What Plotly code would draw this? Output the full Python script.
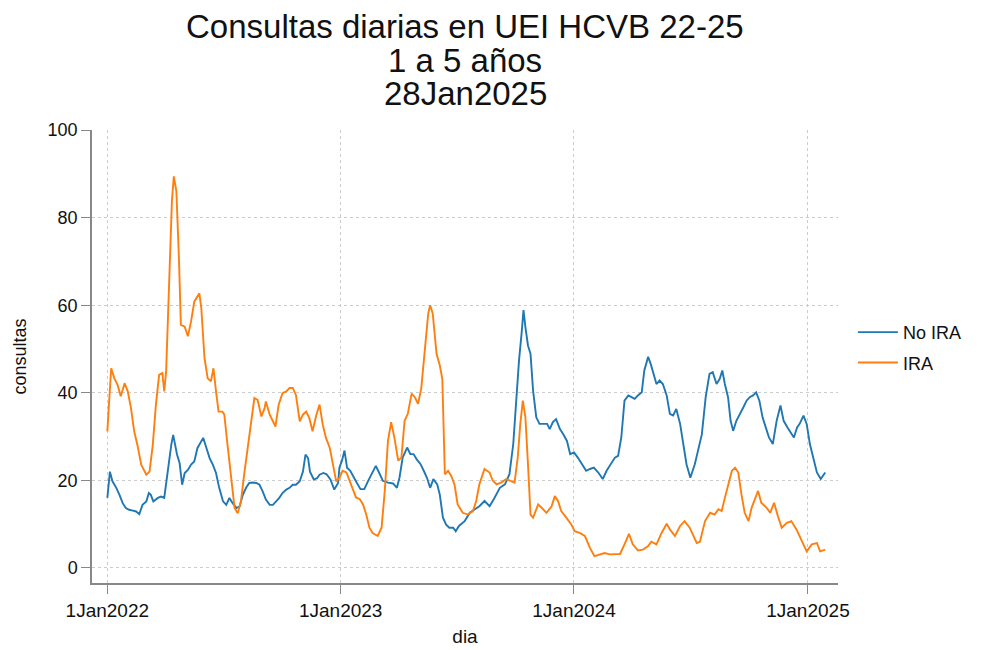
import pandas as pd
import plotly.graph_objects as go

# days since 1Jan2022
dias_no_ira = [0, 4, 8, 14, 19, 24, 29, 34, 40, 45, 50, 55, 61, 65, 68, 72, 79, 84, 89, 94,
               100, 103, 109, 113, 117, 121, 126, 131, 136, 141, 147, 150, 155, 160, 165, 170, 175,
               181, 186, 191, 196, 202, 207, 212, 217, 222, 228, 233, 238, 243, 248, 254, 259, 264,
               269, 274, 280, 285, 290, 295, 301, 306, 310, 314, 317, 323, 328, 332, 338, 343, 349,
               355, 361, 363, 367, 371, 375, 380, 385, 390, 396, 402, 408, 413, 420, 425, 431, 439,
               447, 453, 457, 462, 469, 474, 479, 484, 490, 495, 500, 505, 510, 516, 520, 525, 530,
               535, 541, 545, 550, 559, 567, 575, 582, 590, 598, 606, 614, 622, 629, 635, 640, 644,
               648, 651, 654, 658, 662, 666, 671, 676, 682, 688, 692, 697, 702, 708, 713, 719, 724,
               730, 736, 742, 749, 755, 761, 768, 775, 781, 787, 794, 799, 804, 809, 815, 820, 825,
               830, 836, 840, 846, 850, 854, 859, 864, 869, 875, 880, 885, 890, 896, 901, 906, 912,
               919, 924, 930, 936, 942, 947, 953, 958, 962, 966, 971, 975, 979, 984, 990, 995, 1000,
               1005, 1010, 1015, 1020, 1025, 1030, 1035, 1041, 1047, 1053, 1058, 1064, 1069, 1074,
               1079, 1083, 1089, 1094, 1099, 1105, 1110, 1116, 1123]
no_ira = [16, 22, 19.8, 18.3, 16.7, 14.8, 13.7, 13.3, 13.1, 12.9, 12.3, 14.4, 15.2, 17.1, 16.7,
          15.2, 16, 16.3, 16, 22, 28.1, 30.4, 25.9, 24, 19, 21.7, 22.4, 23.6, 24.3, 27.4, 28.9,
          29.7, 27.4, 25.1, 23.6, 21.7, 18.3, 15.2, 14.4, 16, 14.8, 13.7, 14.1, 16.7, 18.3, 19.4,
          19.5, 19.4, 19, 17.5, 15.6, 14.4, 14.4, 15.2, 16, 17.1, 17.9, 18.3, 19, 19, 19.8, 22,
          25.9, 25.1, 22, 20.2, 20.5, 21.3, 21.7, 21.4, 20.2, 17.9, 19.4, 22.9, 24.5, 26.8, 22.9,
          22.2, 21, 19.5, 18, 18, 19.9, 21.4, 23.3, 21.8, 19.9, 19.5, 19.3, 18.3, 20.6, 25.2,
          27.5, 26, 26, 24.8, 23.7, 22.2, 20.6, 18.3, 20.3, 19.1, 16.8, 11.5, 9.9, 9.2, 9.2, 8.4,
          9.6, 10.7, 12.6, 13.4, 14.1, 15.3, 14.1, 16.1, 18.3, 19.1, 21.4, 28.3, 40.5, 47.4,
          53.5, 58.9, 55, 50.8, 48.9, 40.5, 34.4, 32.9, 32.9, 32.9, 31.7, 33.3, 34, 31.7, 30.6,
          29, 26, 26.4, 25.2, 23.7, 22.2, 22.6, 22.9, 21.8, 20.3, 22.2, 23.7, 25.2, 25.6, 29.8,
          38.2, 39.4, 39, 38.6, 39.4, 40.1, 45.1, 48.2, 46.6, 44.3, 42, 42.8, 42, 39.4, 35.2,
          34.8, 36.3, 32.9, 28.3, 23.7, 20.6, 23.7, 26.8, 30.5, 39, 44.3, 44.7, 42, 43.2, 45.1,
          42, 39, 33.6, 31.3, 33.6, 35.5, 36.7, 38.2, 39, 39.4, 40.1, 38.2, 34.4, 32.1, 29.8,
          28.3, 33.6, 37.1, 33.6, 32.1, 31, 29.8, 32.1, 32.9, 34.8, 32.9, 28.3, 24.5, 21.8, 20.3,
          21.8]

dias_ira = [0, 6, 11, 16, 21, 27, 32, 37, 42, 47, 53, 61, 66, 71, 76, 81, 86, 89, 92, 97, 101,
            104, 108, 112, 115, 121, 126, 131, 136, 144, 147, 152, 157, 162, 166, 170, 174, 180,
            183, 188, 194, 199, 204, 209, 214, 220, 225, 230, 235, 241, 246, 248, 254, 259, 263,
            268, 274, 280, 285, 290, 295, 301, 306, 311, 316, 321, 327, 332, 337, 342, 348, 353,
            358, 363, 368, 374, 379, 384, 389, 395, 400, 405, 410, 415, 423, 429, 434, 439, 444,
            449, 455, 460, 465, 470, 476, 481, 486, 491, 496, 502, 505, 509, 515, 520, 524, 528,
            533, 538, 543, 548, 556, 564, 572, 577, 582, 590, 598, 603, 609, 616, 624, 632, 637,
            642, 646, 650, 654, 658, 662, 666, 674, 679, 687, 695, 700, 705, 710, 718, 726, 731,
            739, 747, 755, 762, 770, 778, 786, 794, 802, 809, 816, 822, 830, 838, 846, 851, 859,
            867, 875, 880, 888, 896, 903, 911, 922, 927, 935, 943, 950, 956, 961, 966, 971, 977,
            982, 987, 992, 997, 1003, 1008, 1013, 1018, 1023, 1031, 1037, 1043, 1049, 1055, 1063,
            1070, 1078, 1086, 1094, 1102, 1110, 1115, 1123]
ira = [31.2, 45.6, 43.3, 41.8, 39.2, 42.2, 40.3, 36.5, 31.2, 28.1, 23.6, 21.3, 22, 28, 37.3,
       44.1, 44.5, 40.3, 45, 64.6, 83.7, 89.4, 86, 70.7, 55.5, 55.1, 52.9, 56.3, 60.8, 62.7,
       59.3, 47.9, 43.3, 42.6, 45.6, 40.3, 35.7, 35.7, 35, 28.1, 20.5, 13.7, 12.5, 15.2, 21.3,
       28.1, 34.2, 38.8, 38.4, 34.6, 36.5, 38, 35, 33.5, 32.3, 37.3, 39.9, 40.3, 41.1, 41.1,
       39.5, 33.5, 35, 35.7, 34.2, 31.2, 35, 37.3, 32.7, 29.7, 27.4, 23.6, 19.8, 20.5, 22.2,
       21.8, 19.9, 17.6, 16.1, 15.7, 14.5, 12.2, 9.2, 8, 7.3, 9.2, 17.6, 29, 33.3, 29.8, 24.5,
       25.2, 33.6, 35.2, 39.8, 39, 37.5, 40.9, 48.2, 58.1, 60, 58.1, 48.9, 46.3, 43.2, 21.4,
       22.2, 21, 19.1, 14.5, 12.6, 12.2, 13, 15.3, 19.1, 22.6, 21.8, 19.9, 19.1, 19.5, 20.3,
       19.9, 19.5, 25.2, 32.9, 38.2, 34.4, 23.7, 12.2, 11.5, 14.5, 13.8, 12.6, 14.1, 16.4, 15.3,
       13, 11.5, 9.9, 8.4, 8, 7.3, 4.6, 2.7, 3.1, 3.4, 3.1, 3.1, 3.2, 5.4, 7.8, 5.4, 4, 4.2, 5,
       6, 5.4, 8, 10.1, 8.8, 7.3, 9.6, 10.7, 9.2, 5.7, 6, 10.7, 12.6, 12.2, 13.4, 13, 16, 19.1,
       22.2, 22.9, 21.8, 16.8, 12.6, 10.7, 13.8, 15.7, 17.6, 14.9, 13.8, 12.6, 14.9, 11.8, 9.2,
       10.3, 10.7, 8.8, 6.1, 3.8, 5.4, 5.7, 3.8, 4.2]

titulos = ["Consultas diarias en UEI HCVB 22-25", "1 a 5 años", "28Jan2025"]

inicio = pd.Timestamp("2022-01-01")
fechas_no_ira = inicio + pd.to_timedelta(dias_no_ira, unit="D")
fechas_ira = inicio + pd.to_timedelta(dias_ira, unit="D")

FONT = "Liberation Sans, Arial, sans-serif"
# the page body adds an 8px offset, so the figure is 8px smaller than the window
W, H = 978, 642
ML, MR, MT, MB = 84, 148, 122, 67
PLOT_H = H - MT - MB

fig = go.Figure()
fig.add_trace(go.Scatter(x=fechas_no_ira, y=no_ira, mode="lines", name="No IRA",
                         legendgroup="a", line=dict(color="#1f77b4", width=1.9)))
fig.add_trace(go.Scatter(x=fechas_ira, y=ira, mode="lines", name="IRA",
                         legendgroup="b", line=dict(color="#ff7f0e", width=1.9)))

# three title lines with tight spacing (Stata style)
for i, txt in enumerate(titulos):
    py = 19 + 33 * i
    fig.add_annotation(text=txt, xref="paper", yref="paper", x=0.5,
                       y=(H - MB - py) / PLOT_H,
                       xanchor="center", yanchor="middle", showarrow=False,
                       font=dict(size=33, color="#111111", family=FONT))

fig.update_xaxes(
    range=["2021-12-08", "2025-02-17"],
    tickvals=pd.to_datetime(["2022-01-01", "2023-01-01", "2024-01-01", "2025-01-01"]),
    tickformat="%-d%b%Y",
    ticks="outside", ticklen=9, tickcolor="#888888",
    showline=True, linecolor="#888888", linewidth=1.5,
    showgrid=True, gridcolor="#cccccc", griddash="dot", gridwidth=1,
    zeroline=False, automargin=False,
    title=dict(text="dia", font=dict(size=19, family=FONT, color="#111111"), standoff=10),
    tickfont=dict(size=19, family=FONT, color="#111111"),
)
fig.update_yaxes(
    range=[-3.43, 100],
    tickvals=[0, 20, 40, 60, 80, 100],
    ticks="outside", ticklen=9, tickcolor="#888888",
    showline=True, linecolor="#888888", linewidth=1.5,
    showgrid=True, gridcolor="#cccccc", griddash="dot", gridwidth=1,
    zeroline=False, automargin=False,
    title=dict(text="consultas", font=dict(size=18, family=FONT, color="#111111"), standoff=16),
    tickfont=dict(size=18, family=FONT, color="#111111"),
)
fig.update_layout(
    width=W, height=H,
    margin=dict(l=ML, r=MR, t=MT, b=MB),
    plot_bgcolor="white", paper_bgcolor="white",
    font=dict(family=FONT, color="#111111"),
    legend=dict(x=1.02, y=0.52, xanchor="left", yanchor="middle",
                traceorder="grouped", tracegroupgap=4,
                font=dict(size=18, family=FONT, color="#111111"), itemwidth=40),
    showlegend=True,
)

fig.write_html("out.html")
